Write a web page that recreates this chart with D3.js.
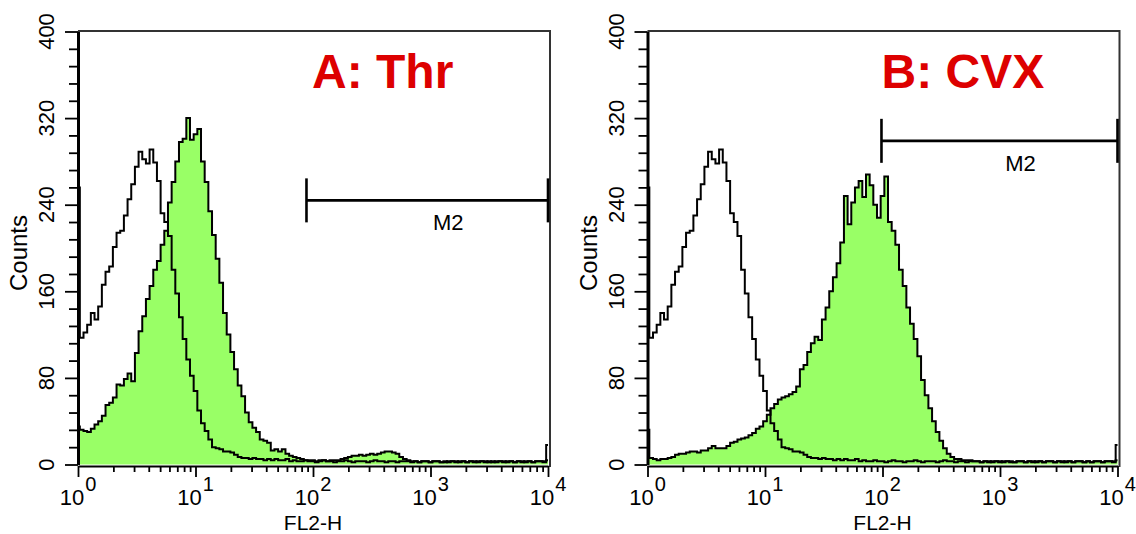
<!DOCTYPE html>
<html>
<head>
<meta charset="utf-8">
<script src="https://cdn.jsdelivr.net/npm/d3@7"></script>
<style>
  html, body { margin: 0; padding: 0; background: #fff; }
  svg { display: block; font-family: "Liberation Sans", Arial, sans-serif; }
</style>
</head>
<body>
<svg id="chart" width="1136" height="534"></svg>
<script>
// histogram counts, 32 channels per decade, 10^0 .. 10^4 (129 channels)
var control = [
  256,117,122,129,140,134,146,166,178,183,
  201,214,216,230,245,259,275,289,282,278,
  291,279,262,232,224,211,180,158,136,116,
  97,82,68,50,38,31,23,16,15,14,
  12,12,11,9,7,6,6,5,6,5,
  5,4,5,4,5,4,4,5,3,4,
  3,3,4,3,3,2,3,4,3,3,
  2,3,3,4,3,2,3,3,3,2,
  3,4,3,3,2,3,3,2,3,3,
  3,2,3,2,3,3,2,3,3,2,
  2,3,3,2,3,3,2,3,2,3,
  3,2,3,2,3,3,2,3,3,2,
  3,2,3,3,2,3,3,3,
  18
];
var thr = [
  35,32,31,30,33,37,40,45,55,57,
  62,74,73,79,84,77,103,123,137,153,
  165,180,188,203,216,242,261,280,298,301,
  320,300,305,310,280,261,234,212,190,168,
  140,120,104,88,73,63,48,39,34,30,
  23,22,20,13,14,12,14,10,8,7,
  6,5,4,4,4,3,4,4,3,4,
  4,4,5,6,7,8,8,9,8,9,
  10,9,10,11,12,12,11,10,7,5,
  4,3,3,2,3,3,2,3,3,2,
  3,2,3,3,2,3,2,3,3,2,
  3,3,2,3,2,3,3,2,3,2,
  3,3,2,3,2,3,3,2,
  4
];
var cvx = [
  32,6,5,4,5,5,6,7,9,10,
  10,11,12,12,11,13,13,15,17,15,
  15,15,17,20,21,23,24,25,27,29,
  33,35,40,46,52,56,60,62,63,65,
  67,72,88,92,104,112,118,115,134,145,
  160,173,186,205,248,222,242,256,262,247,
  268,258,240,228,248,266,224,216,203,180,
  165,145,130,116,100,78,64,52,40,30,
  22,15,10,7,5,5,4,4,4,3,
  3,2,3,3,2,3,3,2,3,3,
  2,3,3,2,3,2,3,3,2,3,
  3,2,3,3,2,3,2,3,3,2,
  3,2,3,3,2,3,3,2,
  4
];

var titles = ['A: Thr', 'B: CVX'];
var samples = [thr, cvx];
var gates = [[88, 10000], [98, 10000]];   // M2 marker range
var gateLevel = [244, 299];               // M2 marker height (counts)
var gateName = 'M2';
var yMajor = [0, 80, 160, 240, 320, 400];
var yMinor = [16, 32, 48, 64, 96, 112, 128, 144, 176, 192, 208, 224, 256, 272, 288, 304, 336, 352, 368, 384];
var decades = [0, 1, 2, 3, 4];
var xMinor = [];
[1, 10, 100, 1000].forEach(function (d) {
  [2, 3, 4, 5, 6, 7, 8, 9].forEach(function (m) { xMinor.push(d * m); });
});
var perDecade = 32;

(function () {
  var svg = d3.select('#chart');
  var panelLeft = [78, 647.5];
  var W = 470, plotTop = 31.5, plotBottom = 464.5, axisY = 466;

  function channelPoints(arr) {
    return arr.map(function (c, k) { return [Math.pow(10, k / perDecade), c]; });
  }

  function drawPanel(p) {
    var x0 = panelLeft[p];
    var x = d3.scaleLog().domain([1, 10000]).range([x0, x0 + W]);
    var y = d3.scaleLinear().domain([0, 400]).range([plotBottom, plotTop]);
    var g = svg.append('g');

    var area = d3.area()
      .x(function (d) { return x(d[0]); })
      .y0(y(0))
      .y1(function (d) { return y(d[1]); })
      .curve(d3.curveStep);
    var line = d3.line()
      .x(function (d) { return x(d[0]); })
      .y(function (d) { return y(d[1]); })
      .curve(d3.curveStep);

    g.append('path').datum(channelPoints(samples[p]))
      .attr('d', area).attr('fill', '#99ff66');
    g.append('path').datum(channelPoints(samples[p]))
      .attr('d', line).attr('fill', 'none').attr('stroke', '#000').attr('stroke-width', 2);
    g.append('path').datum(channelPoints(control))
      .attr('d', line).attr('fill', 'none').attr('stroke', '#000').attr('stroke-width', 2);

    // top + right frame
    g.append('path')
      .attr('d', 'M' + x0 + ',' + (plotTop - 0.5) + 'H' + (x0 + W + 2) + 'V' + (axisY + 1))
      .attr('fill', 'none').attr('stroke', '#333').attr('stroke-width', 2);

    // y axis
    var yAx = g.append('g').attr('transform', 'translate(' + x0 + ',0)')
      .call(d3.axisLeft(y).tickValues(yMajor).tickSize(13).tickSizeOuter(0).tickFormat(''));
    yAx.select('.domain').attr('stroke', '#000').attr('stroke-width', 3);
    yAx.selectAll('.tick line').attr('stroke-width', 1.8);
    g.append('g').attr('transform', 'translate(' + x0 + ',0)')
      .call(d3.axisLeft(y).tickValues(yMinor).tickSize(9).tickSizeOuter(0).tickFormat(''))
      .call(function (s) { s.select('.domain').remove(); s.selectAll('.tick line').attr('stroke-width', 1.8); });

    g.selectAll('.ylab').data(yMajor).enter().append('text')
      .attr('transform', function (d) { return 'translate(' + (x0 - 24) + ',' + y(d) + ') rotate(-90)'; })
      .attr('text-anchor', 'middle')
      .attr('font-size', 22)
      .text(function (d) { return d; });

    g.append('text')
      .attr('transform', 'translate(' + (x0 - 51) + ',253) rotate(-90)')
      .attr('text-anchor', 'middle').attr('font-size', 24)
      .text('Counts');

    // x axis
    var xAx = g.append('g').attr('transform', 'translate(0,' + axisY + ')')
      .call(d3.axisBottom(x).tickValues(decades.map(function (d) { return Math.pow(10, d); }))
        .tickSize(11).tickSizeOuter(0).tickFormat(''));
    xAx.select('.domain').attr('stroke', '#000').attr('stroke-width', 2);
    xAx.selectAll('.tick line').attr('stroke-width', 1.8);
    g.append('g').attr('transform', 'translate(0,' + axisY + ')')
      .call(d3.axisBottom(x).tickValues(xMinor).tickSize(6).tickSizeOuter(0).tickFormat(''))
      .call(function (s) { s.select('.domain').remove(); s.selectAll('.tick line').attr('stroke-width', 1.8); });

    var xl = g.selectAll('.xlab').data(decades).enter().append('text')
      .attr('x', function (d) { return x(Math.pow(10, d)); })
      .attr('y', 505)
      .attr('text-anchor', 'middle')
      .attr('font-size', 22);
    xl.append('tspan').text('10');
    xl.append('tspan').attr('dx', 1).attr('dy', -14).attr('font-size', 20).text(function (d) { return d; });

    g.append('text')
      .attr('x', x0 + W / 2).attr('y', 529.5)
      .attr('text-anchor', 'middle').attr('font-size', 21)
      .text('FL2-H');

    // M2 marker
    var gy = y(gateLevel[p]);
    var ga = x(gates[p][0]), gb = x(gates[p][1]);
    g.append('line').attr('x1', ga).attr('x2', gb).attr('y1', gy).attr('y2', gy)
      .attr('stroke', '#000').attr('stroke-width', 2.6);
    [ga, gb].forEach(function (gx) {
      g.append('line').attr('x1', gx).attr('x2', gx).attr('y1', gy - 22).attr('y2', gy + 22)
        .attr('stroke', '#000').attr('stroke-width', 2.6);
    });
    g.append('text')
      .attr('x', (ga + gb) / 2 + 21).attr('y', gy + 30)
      .attr('text-anchor', 'middle').attr('font-size', 22)
      .text(gateName);

    // title
    g.append('text')
      .attr('x', x0 + 234).attr('y', 88)
      .attr('font-size', 48).attr('font-weight', 'bold').attr('fill', '#dd0000')
      .text(titles[p]);
  }

  drawPanel(0);
  drawPanel(1);
})();
</script>
</body>
</html>
